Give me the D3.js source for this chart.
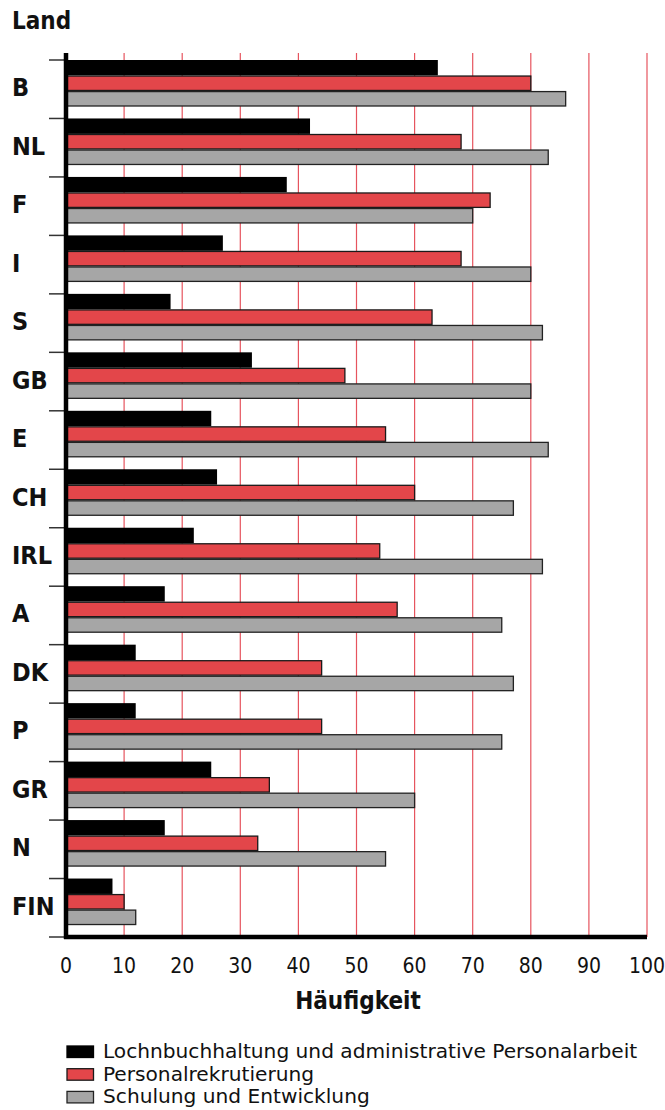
<!DOCTYPE html>
<html><head><meta charset="utf-8">
<script src="https://cdn.jsdelivr.net/npm/d3@7"></script>
<style>html,body{margin:0;padding:0;background:#fff;}svg{display:block;}</style>
</head><body>
<script>
const categories = ["B","NL","F","I","S","GB","E","CH","IRL","A","DK","P","GR","N","FIN"];
const seriesNames = ["Lochnbuchhaltung und administrative Personalarbeit","Personalrekrutierung","Schulung und Entwicklung"];
const lohn    = [64,42,38,27,18,32,25,26,22,17,12,12,25,17,8];
const rekrut  = [80,68,73,68,63,48,55,60,54,57,44,44,35,33,10];
const schul   = [86,83,70,80,82,80,83,77,82,75,77,75,60,55,12];
const xTicks  = [0,10,20,30,40,50,60,70,80,90,100];
const yTitle = "Land";
const xTitle = "Häufigkeit";

const W = 665, H = 1110;
const fills = ["#000000","#e3464a","#a6a6a6"];
const strokes = ["#000000","#1a1a1a","#222222"];
const values = [lohn, rekrut, schul];

const svg = d3.select("body").append("svg").attr("width", W).attr("height", H);
const font = "'DejaVu Sans Condensed','DejaVu Sans',sans-serif";

const x = d3.scaleLinear().domain([0,100]).range([66,647]);
const y = d3.scaleBand().domain(categories).range([60,937]).paddingInner(0).paddingOuter(0);
const sub = d3.scaleBand().domain([0,1,2]).range([0,46]).paddingInner(0.04);

// gridlines
svg.append("g").selectAll("line").data(xTicks.filter(d=>d>0)).join("line")
  .attr("x1", d=>x(d)).attr("x2", d=>x(d)).attr("y1", 53).attr("y2", 937)
  .attr("stroke", "#e6545e").attr("stroke-width", 1.2);

// left ticks at band boundaries
const bounds = categories.map(c=>y(c)).concat([y.range()[1]]);
svg.append("g").selectAll("line").data(bounds).join("line")
  .attr("x1", 49).attr("x2", 66).attr("y1", d=>d).attr("y2", d=>d)
  .attr("stroke", "#333").attr("stroke-width", 1.5);

// bars
values.forEach((vals, s) => {
  svg.append("g").selectAll("rect").data(categories).join("rect")
    .attr("x", x(0))
    .attr("y", (c)=> y(c) + sub(s) + (s===0?0:0.5))
    .attr("width", (c,i)=> x(vals[i]) - x(0))
    .attr("height", s===0 ? sub.bandwidth()+0.5 : sub.bandwidth()-0.5)
    .attr("fill", fills[s])
    .attr("stroke", s===0 ? "none" : strokes[s])
    .attr("stroke-width", 1.3);
});

// axes lines
svg.append("line").attr("x1", 66).attr("x2", 66).attr("y1", 53).attr("y2", 939)
  .attr("stroke", "#000").attr("stroke-width", 4.5);
svg.append("line").attr("x1", 64).attr("x2", 647).attr("y1", 937).attr("y2", 937)
  .attr("stroke", "#000").attr("stroke-width", 4.5);

// category labels
svg.append("g").selectAll("text").data(categories).join("text")
  .attr("x", 12).attr("y", c=> y(c) + y.bandwidth()/2 - 1.5)
  .attr("dominant-baseline", "central")
  .attr("font-family", font).attr("font-weight", "bold").attr("font-size", 25)
  .attr("fill", "#111").text(c=>c);

// x tick labels
svg.append("g").selectAll("text").data(xTicks).join("text")
  .attr("x", d=>x(d)).attr("y", 973).attr("text-anchor", "middle")
  .attr("font-family", font).attr("font-size", 21).attr("fill", "#111")
  .text(d=>d);

// titles
svg.append("text").attr("x", 12).attr("y", 29)
  .attr("font-family", font).attr("font-weight", "bold").attr("font-size", 24)
  .attr("fill", "#111").text(yTitle);
svg.append("text").attr("x", 358).attr("y", 1009).attr("text-anchor", "middle")
  .attr("font-family", font).attr("font-weight", "bold").attr("font-size", 24)
  .attr("fill", "#111").text(xTitle);

// legend
const lg = svg.append("g");
seriesNames.forEach((n, i) => {
  const by = 1058 + i*22.7;
  lg.append("rect").attr("x", 67).attr("y", by - 12).attr("width", 26.5).attr("height", 11.5)
    .attr("fill", fills[i]).attr("stroke", i===0 ? "#000" : strokes[i]).attr("stroke-width", 1.3);
  const t = lg.append("text").attr("x", 103).attr("y", by)
    .attr("font-family", font).attr("font-size", 20).attr("fill", "#111").text(n);
  const w = t.node().getComputedTextLength();
  t.attr("textLength", w * 1.12).attr("lengthAdjust", "spacingAndGlyphs");
});
</script>
</body></html>
